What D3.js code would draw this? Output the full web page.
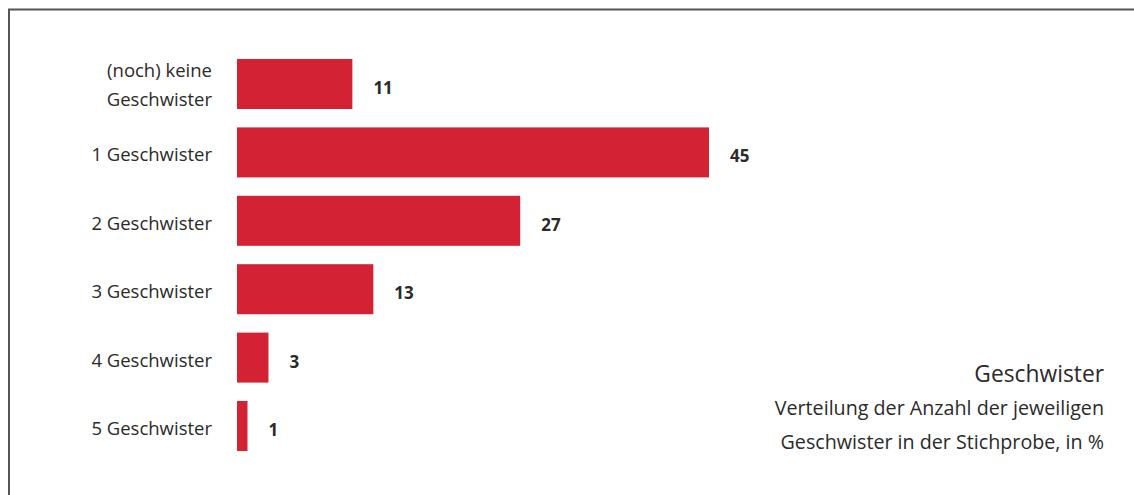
<!DOCTYPE html>
<html><head><meta charset="utf-8">
<script src="https://cdn.jsdelivr.net/npm/d3@7"></script>
<style>body{margin:0;background:#fff}svg{display:block}</style>
</head><body>
<svg id="c" width="1134" height="495"></svg>
<script>
const categories = [["(noch) keine","Geschwister"],["1 Geschwister"],["2 Geschwister"],["3 Geschwister"],["4 Geschwister"],["5 Geschwister"]];
const values = [11,45,27,13,3,1];
const title = "Geschwister";
const subtitle = ["Verteilung der Anzahl der jeweiligen","Geschwister in der Stichprobe, in %"];

const svg = d3.select("#c");
const font = "'Open Sans', 'Noto Sans', sans-serif";
svg.append("rect").attr("x",9).attr("y",9.5).attr("width",1140).attr("height",500)
  .attr("fill","none").attr("stroke","#555").attr("stroke-width",2);

const x = d3.scaleLinear().domain([0,45]).range([237,709]);
const y = d3.scaleBand().domain(d3.range(values.length)).range([59, 59+68.4*5+50]).paddingInner(18.4/68.4).paddingOuter(0);

const g = svg.append("g");
g.selectAll("rect.bar").data(values).join("rect").attr("class","bar")
  .attr("x",x(0)).attr("y",(d,i)=>y(i)).attr("width",d=>x(d)-x(0)).attr("height",y.bandwidth())
  .attr("fill","#d22233");

g.selectAll("text.val").data(values).join("text").attr("class","val")
  .attr("x",d=>x(d)+21).attr("y",(d,i)=>y(i)+y.bandwidth()/2+10)
  .attr("font-family",font).attr("font-weight","bold").attr("font-size",17).attr("fill","#2a2a2a")
  .text(d=>d);

categories.forEach((lines,i)=>{
  const cy = y(i)+y.bandwidth()/2;
  const t = g.append("text").attr("text-anchor","end").attr("x",212)
    .attr("font-family",font).attr("font-size",18.5).attr("fill","#2a2a2a");
  lines.forEach((l,j)=>{
    const off = lines.length>1 ? (j===0?-7:22) : 9;
    t.append("tspan").attr("x",212).attr("y",cy+off).text(l);
  });
});

svg.append("text").attr("x",1104).attr("y",382).attr("text-anchor","end")
  .attr("font-family",font).attr("font-size",22.8).attr("fill","#2a2a2a").text(title);
subtitle.forEach((s,i)=>{
  svg.append("text").attr("x",1104).attr("y",415+i*34).attr("text-anchor","end")
    .attr("font-family",font).attr("font-size",19.7).attr("fill","#2a2a2a").text(s);
});
</script>
</body></html>
